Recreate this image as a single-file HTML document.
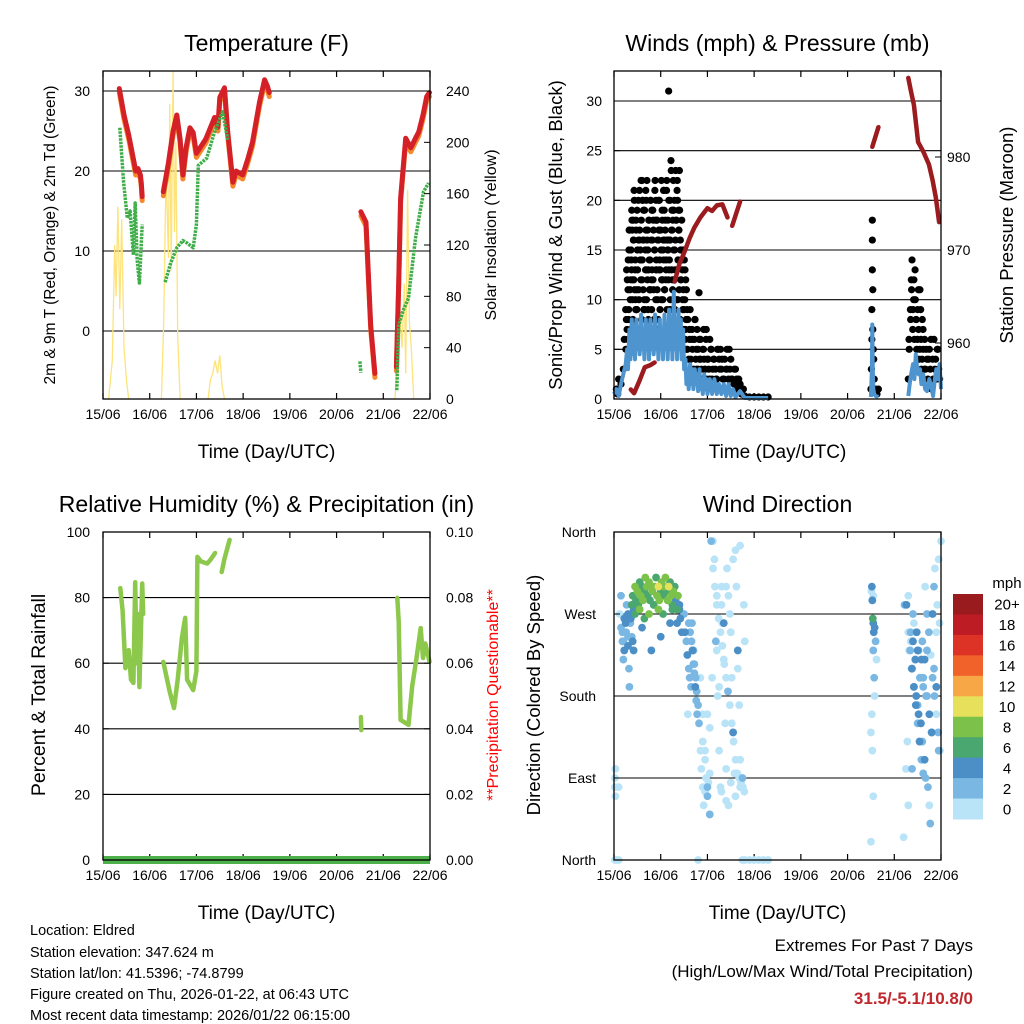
<!DOCTYPE html>
<html><head><meta charset="utf-8"><style>
html,body{margin:0;padding:0;background:#fff;}
svg{display:block;font-family:"Liberation Sans",sans-serif;}
</style></head><body>
<svg id="c" width="1024" height="1024" viewBox="0 0 1024 1024" xmlns="http://www.w3.org/2000/svg">
<rect width="1024" height="1024" fill="#fff"/>
<g id="g1"></g>
<g id="g2"></g>
<g id="g3"></g>
<g id="g4"></g>
<g font-size="14.5" fill="#000">
<text x="30" y="935">Location: Eldred</text>
<text x="30" y="957">Station elevation: 347.624 m</text>
<text x="30" y="978">Station lat/lon: 41.5396; -74.8799</text>
<text x="30" y="999">Figure created on Thu, 2026-01-22, at 06:43 UTC</text>
<text x="30" y="1020">Most recent data timestamp: 2026/01/22 06:15:00</text>
</g>
<g text-anchor="end">
<text x="973" y="951" font-size="17">Extremes For Past 7 Days</text>
<text x="973" y="977" font-size="17">(High/Low/Max Wind/Total Precipitation)</text>
<text x="973" y="1004" font-size="17" font-weight="bold" fill="#c0282d">31.5/-5.1/10.8/0</text>
</g>
</svg>
<script>
// ---------- DATA ----------
const dayLabels=["15/06","16/06","17/06","18/06","19/06","20/06","21/06","22/06"];
const tempT=[0.35,0.45,0.55,0.65,0.70,0.75,0.80,0.82,0.84,null,1.29,1.40,1.50,1.58,1.65,1.71,1.78,1.86,1.93,2.0,2.2,2.39,2.46,2.5,2.6,2.67,2.78,2.85,2.99,3.1,3.2,3.35,3.46,3.52,3.56,null,5.52,5.63,5.73,5.82,null,6.28,6.33,6.37,6.48,6.59,6.68,6.76,6.85,6.93,6.99];
const tempV=[30.3,27,24.5,21.5,20,20.3,19.5,18.5,16.8,null,17.4,21,25,27,24,19.5,23,25.4,24.8,22.2,24,26.7,25.5,29.2,30.4,24.9,18.6,20,19.5,21.5,23.6,28.6,31.4,30.6,29.8,null,14.9,13.6,0.7,-5.3,null,-4.5,6,16.6,24.1,22.9,24,24.9,27,29.3,29.8];
const dewT=[0.36,0.44,0.52,0.58,0.65,0.69,0.73,0.78,0.84,null,1.33,1.45,1.58,1.71,1.8,1.93,2.0,2.04,2.22,2.39,2.56,2.67,null,5.5,5.52,null,6.29,6.33,6.42,6.54,6.69,6.86,6.97];
const dewV=[25.4,18.6,14.1,15,9.5,16,9,6,13.3,null,6.1,8.5,10.4,11.3,11,10.4,13.3,20.7,21.6,24.9,27.4,23.9,null,-3.8,-5.2,null,-7.4,0.7,2.5,4.1,11.6,17.4,18.5];
const solarT=[0.12,0.2,0.25,0.28,0.32,0.36,0.4,0.45,0.5,0.55,null,1.25,1.3,1.35,1.4,1.43,1.46,1.5,1.53,1.56,1.6,1.65,null,2.25,2.3,2.35,2.4,2.45,2.5,2.55,2.6,null,6.25,6.3,6.35,6.4,6.45,6.48,6.52,6.56,6.6,6.65];
const solarV=[0,30,120,80,150,70,140,40,15,0,null,0,60,180,110,230,100,256,130,200,50,0,null,0,15,20,30,20,34,10,0,null,0,30,70,40,90,20,163,60,40,0];
const pressT=[0.36,0.43,0.55,0.66,0.77,0.87,null,1.3,1.4,1.51,1.62,1.72,1.85,2.0,2.1,2.2,2.32,2.43,null,2.53,2.62,2.7,null,5.53,5.66,null,6.3,6.36,6.42,6.51,6.62,6.74,6.82,6.89,6.96];
const pressV=[955,954.6,956,957.4,957.6,957.9,null,966.6,968.5,969.8,971.3,972.4,973.5,974.5,974.2,974.8,974.9,973.5,null,972.6,974,975.2,null,981.1,983.2,null,988.5,987,985.6,981.6,980.6,979.2,977.5,975.6,973];
const windT=[0,0.05,0.1,0.15,0.2,0.25,0.28,0.3,0.33,0.35,0.38,0.4,0.43,0.45,0.48,0.5,0.53,0.55,0.58,0.6,0.63,0.65,0.68,0.7,0.73,0.75,0.78,0.8,0.83,0.85,0.88,0.9,0.93,0.95,0.98,1.0,1.03,1.05,1.08,1.1,1.13,1.15,1.18,1.2,1.23,1.25,1.28,1.3,1.33,1.35,1.38,1.4,1.43,1.45,1.48,1.5,1.53,1.55,1.58,1.6,1.63,1.65,1.68,1.7,1.73,1.75,1.78,1.8,1.83,1.85,1.88,1.9,1.93,1.95,1.98,2.0,2.05,2.1,2.15,2.2,2.25,2.3,2.35,2.4,2.45,2.5,2.55,2.6,2.7,2.8,3.3,null,5.5,5.52,5.53,5.54,5.55,5.57,5.6,5.66,null,6.3,6.33,6.36,6.4,6.43,6.46,6.49,6.52,6.55,6.58,6.62,6.66,6.7,6.75,6.8,6.83,6.87,6.9,6.93,6.97,7.0];
const windV=[0.5,1,0.3,1.5,2.5,3.5,5,3,7,4,8,4.5,7.5,4,8,5,7,4.5,8.5,5,7,4,8,5,7.5,4,8,5,7,4.5,8.5,5,7,4,8,5,7,4,8.5,5,7.5,4,9,5,8,4,10.8,5,8,4,9,5,8,4,7,3,4,1.5,3,1,3.5,1.5,3,1,3,1.5,2.5,0.8,3,1,2,0.5,2.5,1,2,0.5,2,0.5,2,0.5,1.5,0.5,1.5,0.3,1.5,0.3,1,0.2,0.8,0.1,0.1,null,0.2,3,7.5,3,1,0.5,0.3,0.2,null,0.3,1.5,2.5,3.5,2,4.5,3,2.5,3,1.5,2.5,1,0.8,2,1,0.3,2,3,2,3.5,1];
const gustT=[0.05,0.08,0.1,0.15,0.2,0.22,0.25,0.27,0.28,0.3,0.32,0.33,0.35,0.37,0.38,0.4,0.42,0.43,0.45,0.47,0.48,0.5,0.52,0.53,0.55,0.57,0.58,0.6,0.62,0.63,0.65,0.67,0.68,0.7,0.72,0.73,0.75,0.77,0.78,0.8,0.82,0.83,0.85,0.87,0.88,0.9,0.92,0.93,0.95,0.97,0.98,1.0,1.02,1.03,1.05,1.07,1.08,1.1,1.12,1.13,1.15,1.17,1.18,1.2,1.22,1.23,1.25,1.27,1.28,1.3,1.32,1.33,1.35,1.37,1.38,1.4,1.42,1.43,1.45,1.47,1.48,1.5,1.52,1.53,1.55,1.57,1.58,1.6,1.62,1.63,1.65,1.67,1.68,1.7,1.72,1.73,1.75,1.77,1.78,1.8,1.82,1.83,1.85,1.87,1.88,1.9,1.92,1.93,1.95,1.97,1.98,2.0,2.03,2.05,2.08,2.1,2.13,2.17,2.2,2.23,2.25,2.28,2.3,2.33,2.37,2.4,2.42,2.45,2.48,2.5,2.53,2.57,2.6,2.63,2.67,2.7,2.73,2.77,2.8,2.9,3.0,3.1,3.2,3.3,5.5,5.51,5.52,5.52,5.53,5.53,5.53,5.54,5.54,5.55,5.56,5.57,5.6,5.63,5.66,6.3,6.32,6.35,6.37,6.38,6.4,6.42,6.43,6.45,6.47,6.48,6.5,6.52,6.53,6.55,6.57,6.58,6.6,6.62,6.63,6.65,6.67,6.7,6.72,6.75,6.77,6.8,6.82,6.85,6.87,6.9,6.92,6.95,6.97,
0.31,0.36,0.41,0.46,0.51,0.56,0.61,0.66,0.71,0.76,0.81,0.86,0.91,0.96,1.01,1.06,1.11,1.16,1.21,1.26,1.31,1.36,1.41,1.46,0.34,0.44,0.54,0.64,0.74,0.84,0.94,1.04,1.14,1.24,1.34,1.44,0.39,0.49,0.59,0.69,0.79,0.89,0.99,1.09,1.19,1.29,1.39,0.29,0.6,0.9,1.2];
const gustV=[1,0.5,2,1.5,3,6,9,13,7,11,15,17,10,14,19,12,16,21,13,18,9,15,20,11,17,14,22,12,16,19,10,15,21,13,17,9,18,14,20,12,16,19,11,15,22,13,18,10,16,20,14,17,12,19,15,21,11,18,14,22,16,31,13,20,24,17,12,22,19,15,23,18,21,14,19,23,16,12,18,10,15,9,13,7,11,5,8,4,6,9,3,7,5,2,6,8,4,3,7,5,10.7,4,6,3,2,5,7,4,3,6,2,4,3,6,5,2,4,3,2,5,4,5,3,2,4,3,5,2,3,4,2,1.5,3,1,2,1.5,0.5,1,0.3,0.2,0.2,0.2,0.2,0.2,1,3,6,9,13,16,18,11,7,5,4,2,1,0.5,1,2,5,8,11,14,9,12,6,10,8,5,9,7,4,11,6,3,8,5,2,6,3,4,2,5,3,1,4,6,3,2,5,3,2,
8,12,18,10,7,14,20,9,16,11,19,8,13,17,10,21,12,15,9,18,13,20,8,14,6,11,16,9,13,18,7,12,16,19,10,15,17,9,14,20,11,18,13,16,9,12,17,5,22,20,16];
const gust2T=[0.255,0.265,0.285,0.295,0.305,0.315,0.325,0.345,0.355,0.365,0.375,0.385,0.395,0.405,0.415,0.425,0.435,0.455,0.465,0.475,0.485,0.495,0.505,0.515,0.525,0.535,0.545,0.565,0.575,0.585,0.595,0.605,0.615,0.625,0.635,0.645,0.655,0.675,0.685,0.695,0.705,0.715,0.725,0.735,0.745,0.755,0.765,0.785,0.795,0.805,0.815,0.825,0.835,0.845,0.855,0.865,0.875,0.895,0.905,0.915,0.925,0.935,0.945,0.955,0.965,0.975,0.985,1.005,1.015,1.025,1.035,1.045,1.055,1.065,1.075,1.085,1.095,1.115,1.125,1.135,1.145,1.155,1.165,1.175,1.185,1.195,1.205,1.225,1.235,1.245,1.255,1.265,1.275,1.285,1.295,1.305,1.315,1.335,1.345,1.355,1.365,1.375,1.385,1.395,1.405,1.415,1.425,1.435,1.455,1.465,1.475,1.485,1.495,1.505,1.515,1.525,1.535,1.545,1.555,1.565];
const gust2V=[5,8,12,6,14,9,17,11,7,15,13,18,10,8,16,12,20,14,9,17,11,19,13,7,16,10,21,15,12,18,8,14,20,11,16,9,19,13,17,10,22,12,15,8,18,14,11,20,16,9,13,19,12,17,7,15,21,10,14,18,11,16,8,20,13,17,9,15,22,12,18,10,16,14,19,11,17,13,21,9,15,18,12,20,14,16,10,23,13,17,11,19,15,12,20,9,16,18,13,22,10,14,17,11,19,8,15,12,6,13,9,11,7,14,10,6,12,8,5,9];
const gust3T=[1.615,1.645,1.675,1.705,1.735,1.765,1.795,1.825,1.855,1.885,1.915,1.945,1.975,2.015,2.045,2.075,2.115,2.145,2.185,2.215,2.265,2.315,2.355,2.415,2.465,2.515,2.575,2.625,2.685,2.745,6.315,6.345,6.365,6.395,6.415,6.445,6.465,6.495,6.515,6.545,6.565,6.595,6.615,6.645,6.685,6.735,6.785,6.835,6.885,6.935];
const gust3V=[7,4,6,3,8,5,3,6,4,2,5,3,7,4,2,5,3,4,2,5,3,4,2,3,5,2,3,2,1,1,6,9,12,7,10,13,8,6,11,5,9,4,7,3,5,4,6,2,4,5];
const rhT=[0.37,0.42,0.48,0.55,0.6,0.65,0.69,0.72,0.75,0.78,0.84,0.86,null,1.29,1.43,1.52,1.6,1.69,1.76,1.8,1.93,2.0,2.02,2.1,2.23,2.3,2.4,null,2.54,2.6,2.71,null,5.52,5.53,null,6.3,6.33,6.37,6.45,6.54,6.62,6.71,6.8,6.85,6.9,6.95,6.99];
const rhV=[82.9,76,58.5,64,55,54,84.7,60,75,52.7,84.3,75,null,60.4,51.2,46.3,55,67.7,73.8,55,51.8,57.6,92.4,91,90.4,91.5,93.6,null,87.8,91.9,97.6,null,43.6,39.6,null,79.9,72.8,42.7,42,41.2,53,61.6,70.7,61.6,66,63,60.4];
const precipT=[0,7];
const precipV=[0,0];
const dirT=[0.02,0.02,0.03,0.03,0.02,0.05,0.1,0.15,0.18,0.2,0.2,0.22,0.25,0.27,0.3,0.3,0.32,0.33,0.36,0.38,0.4,0.42,0.45,0.47,0.5,0.52,0.55,0.57,0.6,0.62,0.65,0.67,0.7,0.72,0.75,0.77,0.8,0.82,0.85,0.87,0.9,0.92,0.95,0.97,1.0,1.02,1.05,1.07,1.1,1.12,1.15,1.17,1.2,1.22,1.25,1.27,1.3,1.32,1.35,1.37,1.4,1.42,1.45,0.45,0.55,0.65,0.75,0.85,0.95,1.05,1.15,1.25,1.35,0.4,0.6,0.8,1.0,1.2,1.4,1.5,1.52,1.55,1.57,1.6,1.62,1.65,1.67,1.7,1.72,1.75,1.77,1.8,1.82,1.85,1.87,1.9,1.92,1.95,1.97,2.0,2.0,1.9,1.95,2.02,2.05,2.1,2.12,2.15,2.18,2.2,2.22,2.25,2.28,2.3,2.32,2.35,2.38,2.4,2.42,2.45,2.48,2.5,2.52,2.55,2.58,2.6,2.62,2.65,2.68,2.7,2.72,2.75,2.78,2.8,2.3,2.35,2.45,2.55,2.65,2.25,2.4,2.5,2.6,2.7,2.2,2.3,2.4,2.5,2.6,2.7,2.75,2.8,2.9,3.0,3.1,3.2,3.3,1.8,1.85,1.9,1.95,2.0,2.05,5.5,5.51,5.52,5.53,5.54,5.55,5.56,5.58,5.6,5.55,5.57,5.52,5.53,5.55,5.58,5.62,5.5,5.55,6.2,6.25,6.28,6.3,6.32,6.35,6.37,6.4,6.42,6.45,6.47,6.5,6.52,6.55,6.57,6.6,6.62,6.65,6.67,6.7,6.72,6.75,6.77,6.8,6.82,6.85,6.87,6.9,6.92,6.95,6.97,7.0,6.3,6.35,6.4,6.45,6.5,6.55,6.6,6.65,6.7,6.75,6.8,6.85,6.9,6.95,6.38,6.42,6.48,6.52,6.58,6.62,6.68];
const dirD=[90,80,70,100,0,0,0,290,250,240,220,230,260,280,270,245,210,190,265,280,290,275,300,285,295,280,305,290,300,285,295,310,300,290,305,285,300,295,280,300,310,290,300,285,295,305,290,300,310,295,285,300,305,290,280,295,300,285,275,290,280,265,250,270,275,265,270,280,275,270,285,275,260,240,255,230,245,260,275,270,250,240,225,210,200,190,260,230,215,200,185,170,150,120,100,80,60,110,90,70,160,130,75,85,95,200,350,330,240,290,180,120,80,300,260,220,150,100,320,60,270,250,200,140,95,340,300,230,170,110,80,90,280,240,75,260,290,330,210,190,65,85,70,345,230,280,300,250,95,80,0,0,0,0,0,0,0,0,200,160,120,80,50,20,295,300,285,265,260,250,255,240,230,200,160,120,70,180,220,140,290,25,100,130,60,230,250,210,240,190,220,180,170,160,200,150,130,190,110,90,230,80,60,40,140,270,300,320,250,280,330,260,350,290,240,270,250,230,200,240,220,180,160,140,210,190,120,100,260,250,230,220,200,180,160];
const dirS=[0,0,0,0,0,0,0,2,2,2,2,4,4,2,4,2,2,2,4,6,6,4,8,6,8,6,6,8,6,8,6,8,8,6,8,6,8,8,6,8,6,8,10,8,6,8,6,8,8,6,8,10,6,8,6,8,6,4,6,8,4,4,4,6,8,6,8,6,8,6,8,6,4,4,4,4,4,4,4,2,4,2,4,2,2,2,2,2,2,2,2,2,2,0,0,0,0,0,0,2,0,0,0,0,0,0,0,0,2,0,0,0,0,0,0,0,0,0,0,0,0,0,0,4,0,0,0,4,0,0,0,2,0,0,0,4,0,0,0,0,0,0,0,0,0,0,0,0,0,0,0,0,0,0,0,0,0,0,0,0,0,2,2,0,0,4,4,6,4,4,4,2,2,2,0,0,0,0,0,0,0,0,0,0,0,0,2,2,4,4,4,4,2,4,2,4,2,2,4,2,2,2,0,2,2,4,2,0,0,0,0,0,0,0,0,2,0,4,2,2,4,2,4,4,2,4,2,2,0,4,2,4,2,2,0,2];
const dir2T=[1.58,1.6,1.63,1.66,1.68,1.7,1.72,1.74,1.76,1.78,2.05,2.08,2.12,2.16,2.2,2.24,2.28,2.32,2.36,2.4,2.44,2.48,2.52,2.56,2.6,2.64,2.68,2.72,2.76,2.79,0.1,0.12,0.15,0.18,0.22,0.26,0.3,0.35,0.38,0.42,6.22,6.26,6.3,6.34,6.38,6.42,6.46,6.5,6.54,6.58,6.62,6.66,6.7,6.74,6.78,6.82,6.86,6.9,6.94,6.98];
const dir2D=[260,250,240,230,215,205,190,175,160,145,350,320,300,280,265,250,235,215,200,185,170,150,130,110,95,90,85,80,75,80,270,255,240,265,250,235,260,245,230,280,280,250,230,210,190,170,150,130,110,95,300,270,250,225,200,180,160,140,120,100];
const dir2S=[2,2,4,2,2,4,2,2,0,2,0,0,0,0,0,0,0,0,2,0,0,0,0,0,0,0,0,0,0,0,2,2,4,2,4,2,2,4,2,4,0,2,4,2,4,2,4,2,2,0,2,2,0,2,2,0,2,0,2,0];
const speedBins=[0,2,4,6,8,10,12,14,16,18,20];
const speedLabels=["0","2","4","6","8","10","12","14","16","18","20+"];
const speedColors=["#b9e3f7","#7ab8e3","#4b8fc6","#4aa770","#7cc24a","#e6e05a","#f7a745","#f0622a","#dd3327","#bd1c24","#9a1b1e"];

// ---------- DRAWING ----------
const NS="http://www.w3.org/2000/svg";
function mk(parent,tag,attrs,txt){const e=document.createElementNS(NS,tag);for(const k in attrs)e.setAttribute(k,attrs[k]);if(txt!==undefined)e.textContent=txt;parent.appendChild(e);return e;}
function lin(d0,d1,r0,r1){return v=>r0+(v-d0)/(d1-d0)*(r1-r0);}
function pathFrom(T,V,sx,sy){let d="",pen=false;for(let i=0;i<T.length;i++){if(T[i]===null||V[i]===null){pen=false;continue;}d+=(pen?"L":"M")+sx(T[i]).toFixed(1)+","+sy(V[i]).toFixed(1);pen=true;}return d;}
function frame(g,L,T,R,B,title,xlab){
  mk(g,"text",{x:(L+R)/2,y:T-20,"font-size":23,"text-anchor":"middle",},title);
  const sx=lin(0,7,L,R);
  const xa=mk(g,"g",{});
  dayLabels.forEach((lab,i)=>{const x=sx(i);
    mk(xa,"line",{x1:x,x2:x,y1:B,y2:B-6,stroke:"#000","stroke-width":1.2});
    mk(xa,"line",{x1:x,x2:x,y1:T,y2:T+6,stroke:"#000","stroke-width":1.2});
    mk(xa,"text",{x:x,y:B+20,"font-size":14,"text-anchor":"middle"},lab);});
  mk(g,"text",{x:(L+R)/2,y:B+59,"font-size":19,"text-anchor":"middle",},xlab);
  return sx;
}
function box(g,L,T,R,B){mk(g,"rect",{x:L,y:T,width:R-L,height:B-T,fill:"none",stroke:"#000","stroke-width":1.3,});}
function hgrid(g,L,R,ys){ys.forEach(y=>mk(g,"line",{x1:L,x2:R,y1:y,y2:y,stroke:"#000","stroke-width":1.1}));}
function leftTicks(g,L,ticks,sy,fmt,x){ticks.forEach(v=>{const y=sy(v);mk(g,"line",{x1:L,x2:L+6,y1:y,y2:y,stroke:"#000"});mk(g,"text",{x:x,y:y+5,"font-size":14,"text-anchor":"end"},fmt(v));});}
function rightTicks(g,R,ticks,sy,fmt,x){ticks.forEach(v=>{const y=sy(v);mk(g,"line",{x1:R,x2:R-6,y1:y,y2:y,stroke:"#000"});mk(g,"text",{x:x,y:y+5,"font-size":14,"text-anchor":"start"},fmt(v));});}
function vtitle(g,x,y,txt,size,fill,name){const t=mk(g,"text",{x:x,y:y,"font-size":size,"text-anchor":"middle",fill:fill||"#000",transform:`rotate(-90 ${x} ${y})`},txt);}

// Panel 1
(function(){const g=document.getElementById("g1");const L=103,T=71,R=430,B=399;
 const sx=frame(g,L,T,R,B,"Temperature (F)","Time (Day/UTC)");
 const sy=lin(0,30,331,91), sr=lin(0,240,399,91);
 hgrid(g,L,R,[0,10,20,30].map(sy));
 const sp=mk(g,"path",{d:pathFrom(solarT,solarV,sx,sr),fill:"none",stroke:"#fde37a","stroke-width":1.3});
 
 
 const o=mk(g,"path",{d:pathFrom(tempT,tempV.map(v=>v===null?null:v-0.5),sx,sy),fill:"none",stroke:"#f58a2d","stroke-width":5,"stroke-linejoin":"round","stroke-linecap":"round"});
 
 
 const r=mk(g,"path",{d:pathFrom(tempT,tempV,sx,sy),fill:"none",stroke:"#d42027","stroke-width":5,"stroke-linejoin":"round","stroke-linecap":"round"});
 
 
 const d=mk(g,"path",{d:pathFrom(dewT,dewV,sx,sy),fill:"none",stroke:"#3fae49","stroke-width":3.5,"stroke-dasharray":"2.5 1","stroke-linejoin":"round"});
 
 
 box(g,L,T,R,B);
 leftTicks(g,L,[0,10,20,30],sy,v=>v,90);
 rightTicks(g,R,[0,40,80,120,160,200,240],sr,v=>v,446);
 vtitle(g,55,235,"2m & 9m T (Red, Orange) & 2m Td (Green)",15.5,null,'y-axis-title-left');
 vtitle(g,496,235,"Solar Insolation (Yellow)",16,null,'y-axis-title-right');
})();
// Panel 2
(function(){const g=document.getElementById("g2");const L=614,T=71,R=941,B=399;
 const sx=frame(g,L,T,R,B,"Winds (mph) & Pressure (mb)","Time (Day/UTC)");
 const sy=lin(0,30,399,101), sp=lin(960,980,343,157);
 hgrid(g,L,R,[5,10,15,20,25,30].map(sy));
 const gg=mk(g,"g",{});
 
 
 const allT=gustT.concat(gust2T,gust3T), allV=gustV.concat(gust2V,gust3V);
 allT.forEach((t,i)=>mk(gg,"circle",{cx:sx(t),cy:sy(allV[i]),r:3.6,fill:"#000"}));
 const w=mk(g,"path",{d:pathFrom(windT,windV,sx,sy),fill:"none",stroke:"#4e94cf","stroke-width":4,"stroke-linejoin":"round"});
 
 
 const p=mk(g,"path",{d:pathFrom(pressT,pressV,sx,sp),fill:"none",stroke:"#9b1b1e","stroke-width":4.5,"stroke-linejoin":"round","stroke-linecap":"round"});
 
 
 box(g,L,T,R,B);
 leftTicks(g,L,[0,5,10,15,20,25,30],sy,v=>v,602);
 rightTicks(g,R,[960,970,980],sp,v=>v,947);
 vtitle(g,562,235,"Sonic/Prop Wind & Gust (Blue, Black)",18.5,null,'y-axis-title-left');
 vtitle(g,1013,235,"Station Pressure (Maroon)",18.5,null,'y-axis-title-right');
})();
// Panel 3
(function(){const g=document.getElementById("g3");const L=103,T=532,R=430,B=860;
 const sx=frame(g,L,T,R,B,"Relative Humidity (%) & Precipitation (in)","Time (Day/UTC)");
 const sy=lin(0,100,860,532), sr=lin(0,0.1,860,532);
 hgrid(g,L,R,[20,40,60,80].map(sy));
 const pr=mk(g,"path",{d:pathFrom(precipT,precipV,sx,sr),fill:"none",stroke:"#4db04a","stroke-width":8});
 
 
 const rh=mk(g,"path",{d:pathFrom(rhT,rhV,sx,sy),fill:"none",stroke:"#8cc84b","stroke-width":4.5,"stroke-linejoin":"round","stroke-linecap":"round"});
 
 
 box(g,L,T,R,B);
 leftTicks(g,L,[0,20,40,60,80,100],sy,v=>v,90);
 rightTicks(g,R,[0,0.02,0.04,0.06,0.08,0.1],sr,v=>v.toFixed(2),446);
 vtitle(g,45,695,"Percent & Total Rainfall",19.5,null,'y-axis-title-left');
 vtitle(g,498,695,"**Precipitation Questionable**",16,"#ff0000",'y-axis-title-right');
})();
// Panel 4
(function(){const g=document.getElementById("g4");const L=614,T=532,R=941,B=860;
 const sx=frame(g,L,T,R,B,"Wind Direction","Time (Day/UTC)");
 const sy=lin(0,360,860,532);
 hgrid(g,L,R,[90,180,270].map(sy));
 function col(s){let k=0;for(let i=0;i<speedBins.length;i++)if(s>=speedBins[i])k=i;return speedColors[k];}
 const T_=dirT.concat(dir2T), D_=dirD.concat(dir2D), S_=dirS.concat(dir2S);
 const order=T_.map((t,i)=>i).sort((a,b)=>S_[a]-S_[b]);
 const pg=mk(g,"g",{});
 
 
 order.forEach(i=>mk(pg,"circle",{cx:sx(T_[i]),cy:sy(D_[i]),r:3.9,fill:col(S_[i])}));
 box(g,L,T,R,B);
 const names=["North","East","South","West","North"];
 leftTicks(g,L,[0,90,180,270,360],sy,v=>names[v/90],596);
 vtitle(g,540,695,"Direction (Colored By Speed)",18.5,null,'y-axis-title-left');
 const cb=mk(g,"g",{});
 
 
 mk(cb,"text",{x:1007,y:588,"font-size":15,"text-anchor":"middle"},"mph");
 const h=225/speedColors.length;
 for(let i=0;i<speedColors.length;i++){const k=speedColors.length-1-i;const y=594+i*h;
  mk(cb,"rect",{x:953,y:y,width:30,height:h+0.5,fill:speedColors[k]});
  mk(cb,"text",{x:1007,y:y+h/2+5.5,"font-size":15,"text-anchor":"middle"},speedLabels[k]);}
})();
</script>
</body></html>
